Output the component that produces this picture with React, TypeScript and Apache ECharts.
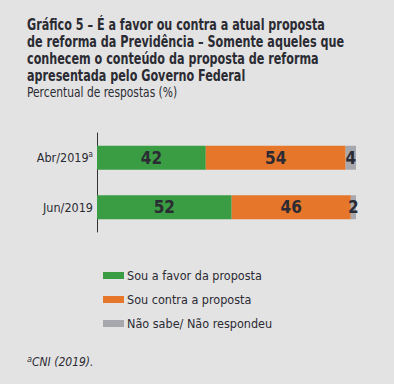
import React, { useEffect, useRef } from "react";
import * as echarts from "echarts";

const categories = ["Abr/2019", "Jun/2019"];
const favor = [42, 52];
const contra = [54, 46];
const naoSabe = [4, 2];
const seriesNames = ["Sou a favor da proposta", "Sou contra a proposta", "Não sabe/ Não respondeu"];
const colors = ["#3a9d44", "#e5762a", "#a6a8ad"];
const titleLines = [
  "Gráfico 5 – É a favor ou contra a atual proposta",
  "de reforma da Previdência – Somente aqueles que",
  "conhecem o conteúdo da proposta de reforma",
  "apresentada pelo Governo Federal",
];
const subtitle = "Percentual de respostas (%)";
const footnote = "CNI (2019).";

const FONT = "'DejaVu Sans Condensed', 'DejaVu Sans', sans-serif";
const INK = "#2b2b33";

export default function App() {
  const ref = useRef<HTMLDivElement>(null);
  useEffect(() => {
    if (!ref.current) return;
    const chart = echarts.init(ref.current, null, { renderer: "svg" });
    const values = [favor, contra, naoSabe];
    chart.setOption({
      animation: false,
      backgroundColor: "#e3e3e3",
      textStyle: { fontFamily: FONT },
      grid: { left: 97, right: 38, top: 133, height: 99 },
      xAxis: { type: "value", min: 0, max: 100, show: false },
      yAxis: {
        type: "category",
        data: categories,
        inverse: true,
        axisLine: { show: true, lineStyle: { color: "#333", width: 1 } },
        axisTick: { show: false },
        axisLabel: {
          margin: 4,
          color: INK,
          fontSize: 12.5,
          fontFamily: FONT,
          formatter: (v: string, i: number) => (i === 0 ? v + "{sup|a}" : v),
          rich: {
            sup: { fontSize: 8, fontFamily: FONT, color: INK, verticalAlign: "top", padding: [0, 0, 6, 0] },
          },
        },
      },
      legend: {
        orient: "vertical",
        left: 98,
        top: 264,
        itemWidth: 21,
        itemHeight: 7,
        itemGap: 11,
        itemStyle: { borderWidth: 0 },
        icon: "rect",
        textStyle: { color: INK, fontSize: 12.5, fontFamily: FONT, padding: [0, 0, 0, -2] },
        data: seriesNames,
      },
      series: seriesNames.map((name, k) => ({
        name,
        type: "bar",
        stack: "total",
        barWidth: 24,
        data: values[k],
        itemStyle: { color: colors[k] },
        label: {
          show: true,
          position: "inside",
          color: INK,
          fontSize: 17,
          fontWeight: "bold",
          fontFamily: FONT,
        },
      })),
      graphic: [
        {
          type: "text",
          x: 27,
          y: 16,
          scaleX: 0.83,
          style: {
            text: titleLines.join("\n"),
            fontSize: 15,
            fontWeight: "bold",
            lineHeight: 17,
            fill: INK,
            fontFamily: FONT,
            verticalAlign: "top",
          },
        },
        {
          type: "text",
          x: 27,
          y: 85,
          scaleX: 0.85,
          style: { text: subtitle, fontSize: 14, fill: INK, fontFamily: FONT, verticalAlign: "top" },
        },
        {
          type: "text",
          x: 27,
          y: 354,
          style: {
            text: "{sup|a}{it|" + footnote + "}",
            fill: INK,
            fontFamily: FONT,
            verticalAlign: "top",
            rich: {
              sup: { fontSize: 9, fontStyle: "italic", fontFamily: FONT, verticalAlign: "top", padding: [0, 0, 6, 0] },
              it: { fontSize: 12, fontStyle: "italic", fontFamily: FONT },
            },
          },
        },
      ],
    });
    return () => chart.dispose();
  }, []);
  return (
    <div
      ref={ref}
      style={{ position: "fixed", left: 0, top: 0, width: 394, height: 384 }}
    />
  );
}
